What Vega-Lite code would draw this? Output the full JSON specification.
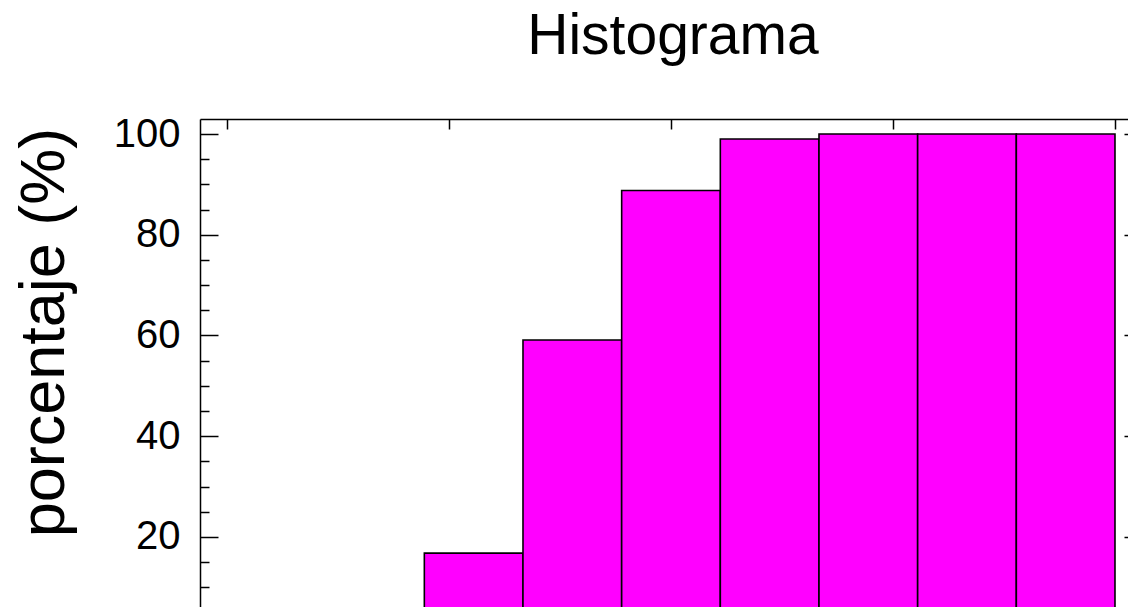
{
  "$schema": "https://vega.github.io/schema/vega-lite/v6.json",
  "width": 928,
  "height": 488,
  "autosize": {"type": "none"},
  "padding": {"left": 200, "top": 119, "right": 0, "bottom": 0},
  "background": "white",
  "config": {
    "view": {"stroke": null},
    "font": "Liberation Sans",
    "axis": {"grid": false, "domainColor": "black", "tickColor": "black", "labelColor": "black", "titleColor": "black", "domainWidth": 1.5, "tickWidth": 1.5},
    "title": {"font": "Liberation Sans", "fontSize": 57, "fontWeight": "normal", "color": "black"}
  },
  "title": {"text": "Histograma", "anchor": "middle", "frame": "group", "dx": 9, "baseline": "alphabetic", "offset": 3},
  "data": {
    "values": [
      {"x0": 0, "x1": 4.444, "pct": 0},
      {"x0": 4.444, "x1": 8.889, "pct": 0},
      {"x0": 8.889, "x1": 13.333, "pct": 16.8},
      {"x0": 13.333, "x1": 17.778, "pct": 59.1},
      {"x0": 17.778, "x1": 22.222, "pct": 88.8},
      {"x0": 22.222, "x1": 26.667, "pct": 99.0},
      {"x0": 26.667, "x1": 31.111, "pct": 100},
      {"x0": 31.111, "x1": 35.556, "pct": 100},
      {"x0": 35.556, "x1": 40, "pct": 100}
    ]
  },
  "resolve": {"axis": {"x": "independent", "y": "independent"}},
  "layer": [
    {
      "mark": {"type": "bar", "fill": "#FF00FF", "stroke": "black", "strokeWidth": 1.6, "clip": true},
      "encoding": {
        "x": {"field": "x0", "type": "quantitative",
          "scale": {"domain": [-1.216, 40.586], "nice": false, "zero": false},
          "axis": {"orient": "top", "domain": true, "ticks": false, "labels": false, "title": null}},
        "x2": {"field": "x1"},
        "y": {"field": "pct", "type": "quantitative",
          "scale": {"domain": [6.1, 102.98], "nice": false, "zero": false},
          "axis": {"orient": "left", "values": [20, 40, 60, 80, 100], "domain": true, "ticks": false, "tickSize": 0,
            "labelPadding": 20, "labelFontSize": 40, "labelFont": "Liberation Sans",
            "title": "porcentaje (%)", "titleFontSize": 63, "titleFontWeight": "normal", "titleFont": "Liberation Sans",
            "titleAngle": -90, "titleX": -156, "titleY": 213, "titleAlign": "center", "titleBaseline": "middle"}},
        "y2": {"datum": 0}
      }
    },
    {
      "mark": {"type": "bar", "opacity": 0, "clip": true},
      "encoding": {
        "x": {"field": "x0", "type": "quantitative",
          "axis": {"orient": "top", "offset": -10, "tickSize": 10, "domain": false, "labels": false, "values": [0, 10, 20, 30, 40], "title": null}},
        "x2": {"field": "x1"},
        "y": {"field": "pct", "type": "quantitative",
          "axis": {"orient": "left", "offset": -18, "tickSize": 18, "domain": false, "labels": false, "values": [20, 40, 60, 80, 100], "title": null}},
        "y2": {"datum": 0}
      }
    },
    {
      "mark": {"type": "bar", "opacity": 0, "clip": true},
      "encoding": {
        "x": {"field": "x0", "type": "quantitative", "axis": null},
        "x2": {"field": "x1"},
        "y": {"field": "pct", "type": "quantitative",
          "axis": {"orient": "left", "offset": -9, "tickSize": 9, "domain": false, "labels": false, "values": [10, 15, 25, 30, 35, 45, 50, 55, 65, 70, 75, 85, 90, 95], "title": null}},
        "y2": {"datum": 0}
      }
    },
    {
      "mark": {"type": "bar", "opacity": 0, "clip": true},
      "encoding": {
        "x": {"field": "x0", "type": "quantitative", "axis": null},
        "x2": {"field": "x1"},
        "y": {"field": "pct", "type": "quantitative",
          "axis": {"orient": "right", "offset": -4, "tickSize": 4, "domain": false, "labels": false, "values": [20, 40, 60, 80, 100], "title": null}},
        "y2": {"datum": 0}
      }
    }
  ]
}
